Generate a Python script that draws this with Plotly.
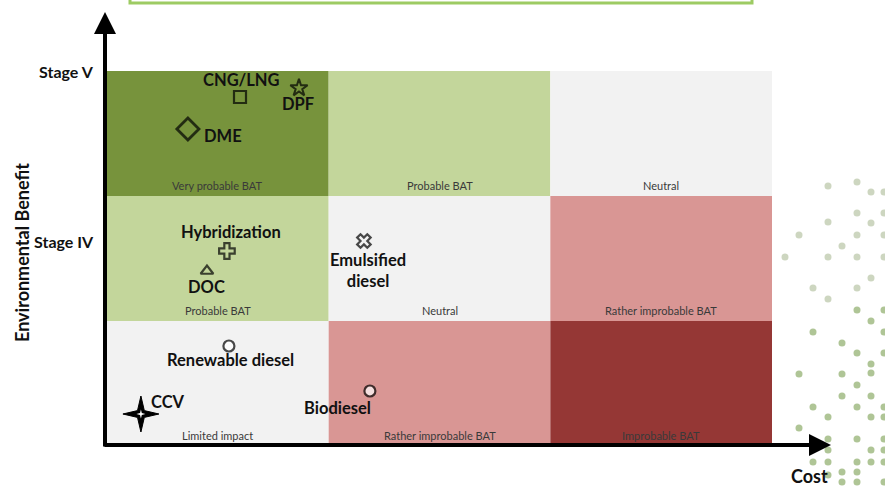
import plotly.graph_objects as go

# ---------------- data ----------------
# Matrix cells: rows from bottom (benefit 0..3), columns left to right (cost 0..3)
cell_labels = [
    ["Limited impact", "Rather improbable BAT", "Improbable BAT"],
    ["Probable BAT", "Neutral", "Rather improbable BAT"],
    ["Very probable BAT", "Probable BAT", "Neutral"],
]
cell_colors = [
    ["#f2f2f2", "#d99694", "#953735"],
    ["#c3d69b", "#f2f2f2", "#d99694"],
    ["#77933c", "#c3d69b", "#f2f2f2"],
]
stage_labels = ["Stage IV", "Stage V"]
stage_values = [1.64, 3.0]

tech_names = ["CNG/LNG", "DPF", "DME", "Hybridization", "DOC",
              "Emulsified<br>diesel", "Renewable diesel", "Biodiesel", "CCV"]
tech_cost = [0.600, 0.866, 0.365, 0.541, 0.451, 1.159, 0.550, 1.186, 0.153]
tech_benefit = [2.792, 2.864, 2.536, 1.560, 1.400, 1.640, 0.800, 0.440, 0.256]

# decorative dot pattern on the right (pixel positions of the slide background)
deco_dots_px = [
    (828, 186), (857, 182), (871, 192), (884, 192),
    (857, 213), (828, 222), (871, 223), (884, 213),
    (799, 235), (842, 246), (857, 235), (884, 235),
    (785, 257), (828, 257), (857, 257), (884, 257),
    (871, 278), (813, 288), (857, 288), (828, 299),
    (857, 310), (884, 310), (871, 321), (813, 332), (884, 332),
    (842, 343), (857, 353), (884, 353), (871, 364), (871, 373),
    (799, 374), (842, 374), (857, 385), (842, 396), (871, 396),
    (813, 407), (857, 407), (884, 407), (828, 417), (871, 417), (884, 417),
    (799, 428), (828, 439), (857, 439), (884, 439),
    (828, 450), (871, 450), (884, 450),
    (813, 462), (828, 462), (857, 462), (871, 462), (884, 462),
    (842, 472), (857, 472), (857, 482), (884, 482), (842, 482), (828, 475),
]

# ---------------- styling / geometry ----------------
W, H = 885, 487
PX_X0, PX_X1 = 107, 772   # pixel of cost 0 and 3
PX_Y0, PX_Y1 = 446, 71    # pixel of benefit 0 and 3
sx = (PX_X1 - PX_X0) / 3.0
sy = (PX_Y0 - PX_Y1) / 3.0
x_range = [-PX_X0 / sx, (W - PX_X0) / sx]
y_range = [-(H - PX_Y0) / sy, PX_Y0 / sy]


def dx(px):
    return (px - PX_X0) / sx


def dy(py):
    return (PX_Y0 - py) / sy


FONT = "Lato"
symbols = ["square-open", "star-open", "diamond-open", "cross-open",
           "triangle-up-open", "x-open", "circle", "circle", "circle"]
sizes = [12, 13, 17, 13, 11, 12, 11, 11, 0]
fills = ["black", "black", "black", "black", "black", "black", "white", "white", "black"]
line_w = [2.2, 2, 2.8, 2.2, 2.2, 2.2, 2.2, 2.2, 0]
label_shift = [(1, 17), (-1, -16), (35, -7), (4, 19), (0, -16),
               (4, -29), (2, -14), (-32, -17), (27, 12)]

fig = go.Figure()

shapes = []
annotations = []

# slide title box (partially visible)
shapes.append(dict(type="rect", xref="paper", yref="paper",
                   x0=130 / W, x1=752 / W, y0=1 - 3 / H, y1=1.1,
                   line=dict(color="#9dcb63", width=3), fillcolor="white", layer="below"))

# matrix cells
for r, row in enumerate(cell_colors):
    for c, col in enumerate(row):
        shapes.append(dict(type="rect", xref="x", yref="y",
                           x0=c, x1=c + 1, y0=r, y1=r + 1,
                           line=dict(width=0), fillcolor=col, layer="below"))
        annotations.append(dict(x=c + 0.5, y=r + 0.085, xref="x", yref="y",
                                text=cell_labels[r][c], showarrow=False,
                                font=dict(family=FONT, size=11, color="#3a3a3a"),
                                xanchor="center", yanchor="middle"))

# CCV sparkle (4-point star) drawn around its data point
ccv_i = tech_names.index("CCV")
cx, cy = tech_cost[ccv_i], tech_benefit[ccv_i]
R_out, R_in = 18.0, 3.4
pts = [(R_out, 0), (R_in, R_in), (0, R_out), (-R_in, R_in),
       (-R_out, 0), (-R_in, -R_in), (0, -R_out), (R_in, -R_in)]
path = "M " + " L ".join(f"{cx + px / sx:.5f},{cy + py / sy:.5f}" for px, py in pts) + " Z"
shapes.append(dict(type="path", xref="x", yref="y", path=path,
                   fillcolor="black", line=dict(color="black", width=1), layer="above"))
pts2 = [(4.5, 0), (0.9, 0.9), (0, 4.5), (-0.9, 0.9), (-4.5, 0), (-0.9, -0.9), (0, -4.5), (0.9, -0.9)]
path2 = "M " + " L ".join(f"{cx + px / sx:.5f},{cy + py / sy:.5f}" for px, py in pts2) + " Z"
shapes.append(dict(type="path", xref="x", yref="y", path=path2,
                   fillcolor="white", line=dict(width=0), layer="above"))

# decorative dots
fig.add_trace(go.Scatter(
    x=[dx(p[0]) for p in deco_dots_px], y=[dy(p[1]) for p in deco_dots_px],
    mode="markers", hoverinfo="skip", cliponaxis=False,
    marker=dict(size=7, color=["#cdd6c0" if p[1] < 300 else "#afc596" for p in deco_dots_px],
                line=dict(width=0)),
    showlegend=False))

# technology markers
fig.add_trace(go.Scatter(
    x=tech_cost, y=tech_benefit, mode="markers", cliponaxis=False,
    marker=dict(symbol=symbols, size=sizes, color=fills,
                line=dict(color="black", width=line_w)),
    showlegend=False, hovertext=[n.replace("<br>", " ") for n in tech_names], hoverinfo="text"))

for i, name in enumerate(tech_names):
    annotations.append(dict(x=tech_cost[i], y=tech_benefit[i], xref="x", yref="y",
                            text="<b>" + name + "</b>", showarrow=False,
                            xshift=label_shift[i][0], yshift=label_shift[i][1],
                            font=dict(family=FONT, size=16.5, color="#111111"),
                            xanchor="center", yanchor="middle", align="center"))

# stage labels (y ticks)
for s, v in zip(stage_labels, stage_values):
    annotations.append(dict(x=dx(96), y=v, xref="x", yref="y", text="<b>" + s + "</b>",
                            showarrow=False, xanchor="right", yanchor="middle",
                            font=dict(family=FONT, size=16, color="#111111")))

# axes arrows
annotations.append(dict(x=dx(105), y=dy(12), ax=dx(105), ay=dy(448),
                        xref="x", yref="y", axref="x", ayref="y", text="",
                        showarrow=True, arrowhead=2, arrowsize=1.1, arrowwidth=4,
                        arrowcolor="black"))
annotations.append(dict(x=dx(831), y=dy(445), ax=dx(103), ay=dy(445),
                        xref="x", yref="y", axref="x", ayref="y", text="",
                        showarrow=True, arrowhead=2, arrowsize=1.1, arrowwidth=4,
                        arrowcolor="black"))

# axis titles
annotations.append(dict(x=22 / W, y=1 - 253 / H, xref="paper", yref="paper",
                        text="<b>Environmental Benefit</b>", textangle=-90, showarrow=False,
                        font=dict(family=FONT, size=18, color="#111111"),
                        xanchor="center", yanchor="middle"))
annotations.append(dict(x=809 / W, y=1 - 476 / H, xref="paper", yref="paper",
                        text="<b>Cost</b>", showarrow=False,
                        font=dict(family=FONT, size=18, color="#111111"),
                        xanchor="center", yanchor="middle"))

fig.update_layout(
    width=W, height=H, margin=dict(l=0, r=0, t=0, b=0),
    paper_bgcolor="white", plot_bgcolor="white",
    xaxis=dict(range=x_range, visible=False, fixedrange=True),
    yaxis=dict(range=y_range, visible=False, fixedrange=True),
    shapes=shapes, annotations=annotations, showlegend=False,
)

fig.write_html("out.html")
